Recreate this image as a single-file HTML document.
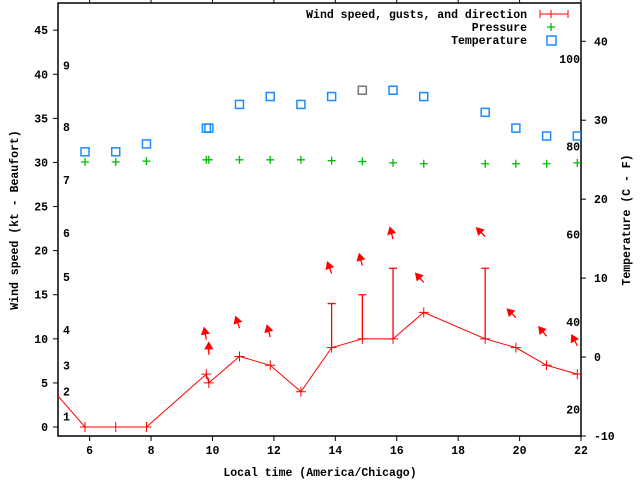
<!DOCTYPE html>
<html><head><meta charset="utf-8"><style>
body{margin:0;background:#fff}
svg text{font-family:"Liberation Mono",monospace;font-weight:bold;font-size:11.5px;fill:#000}
</style></head><body>
<svg id="c" width="640" height="480" viewBox="0 0 640 480">
<g id="axes"></g><g id="marks"></g>
</svg>
<script>
const times=[4.85,5.85,6.85,7.85,9.8,9.88,10.88,11.88,12.88,13.88,14.88,15.88,16.88,18.88,19.88,20.88,21.88];
const speed=[4,0,0,0,6,5,8,7,4,9,10,10,13,10,9,7,6];
const gustTimes=[13.88,14.88,15.88,18.88];
const gusts=[14,15,18,18];
const tempTimes=[5.85,6.85,7.85,9.8,9.88,10.88,11.88,12.88,13.88,14.88,15.88,16.88,18.88,19.88,20.88,21.88];
const tempC=[26,26,27,29,29,32,33,32,33,33.8,33.8,33,31,29,28,28];
const pressure=[30.05,30.05,30.15,30.3,30.3,30.3,30.3,30.3,30.2,30.1,29.95,29.85,29.85,29.85,29.85,29.95];
const dirTimes=[9.8,9.88,10.88,11.88,13.88,14.88,15.88,16.88,18.88,19.88,20.88,21.88];
const dirBase=[9.9,8.2,11.2,10.2,17.4,18.3,21.3,16.4,21.6,12.4,10.3,9.2];
const dirDeg=[350,0,342,345,340,345,345,318,315,315,320,333];
const xTicks=[6,8,10,12,14,16,18,20,22];
const yTicks=[0,5,10,15,20,25,30,35,40,45];
const y2Ticks=[-10,0,10,20,30,40];
const fLabels=[20,40,60,80,100];
const bftLabels=[1,2,3,4,5,6,7,8,9];
const bftKt=[1.2,4.0,7.0,11.0,17.0,22.0,28.0,34.0,41.0];

const L=58,R=581,T=3,B=436;
const X=t=>L+(t-4.97)*(R-L)/17.03;
const Y=v=>B-(v+1.02)*(B-T)/49.1;
const Y2=c=>B-(c+10)*(B-T)/54.85;
const NS='http://www.w3.org/2000/svg';
const ax=document.getElementById('axes'),mk=document.getElementById('marks');
function el(p,tag,a,txt){const e=document.createElementNS(NS,tag);for(const k in a)e.setAttribute(k,a[k]);if(txt!==undefined)e.textContent=txt;p.appendChild(e);return e;}

let e=el(ax,'rect',{x:L,y:T,width:R-L,height:B-T,fill:'none',stroke:'#000','stroke-width':1.5});


xTicks.forEach(t=>{
  const x=X(t);
  el(ax,'line',{x1:x,y1:B,x2:x,y2:B+5,stroke:'#000'});
  el(ax,'line',{x1:x,y1:T,x2:x,y2:T-5,stroke:'#000'});
  const tx=el(ax,'text',{x:x,y:B+18,'text-anchor':'middle'},String(t));
  
  
});
yTicks.forEach(v=>{
  const y=Y(v);
  el(ax,'line',{x1:L-5,y1:y,x2:L,y2:y,stroke:'#000'});
  const tx=el(ax,'text',{x:L-10,y:y+4,'text-anchor':'end'},String(v));
  
  
});
y2Ticks.forEach(c=>{
  const y=Y2(c);
  el(ax,'line',{x1:R,y1:y,x2:R+5,y2:y,stroke:'#000'});
  const tx=el(ax,'text',{x:R+13,y:y+4},String(c));
  
  
});
fLabels.forEach(f=>{
  const tx=el(ax,'text',{x:580,y:Y2((f-32)*5/9)+4,'text-anchor':'end'},String(f));
  
  
});
bftLabels.forEach((b,i)=>{
  const tx=el(ax,'text',{x:63,y:Y(bftKt[i])+4},String(b));
  
  
});
e=el(ax,'text',{x:320,y:476,'text-anchor':'middle'},'Local time (America/Chicago)');


e=el(ax,'text',{x:0,y:0,'text-anchor':'middle',transform:'translate(18,220) rotate(-90)'},'Wind speed (kt - Beaufort)');


e=el(ax,'text',{x:0,y:0,'text-anchor':'middle',transform:'translate(630,220) rotate(-90)'},'Temperature (C - F)');



// legend
const lg=el(ax,'g',{});


el(lg,'text',{x:527,y:18,'text-anchor':'end'},'Wind speed, gusts, and direction');
el(lg,'text',{x:527,y:44,'text-anchor':'end'},'Pressure');
el(lg,'text',{x:527,y:44+13,'text-anchor':'end'},'').remove();
el(lg,'text',{x:527,y:31,'text-anchor':'end'},'').remove();
lg.lastChild.textContent='Pressure';lg.lastChild.setAttribute('y',31);
el(lg,'text',{x:527,y:44,'text-anchor':'end'},'Temperature');
el(lg,'line',{x1:540,y1:14,x2:568,y2:14,stroke:'#f00'});
el(lg,'line',{x1:540,y1:10,x2:540,y2:18,stroke:'#f00'});
el(lg,'line',{x1:568,y1:10,x2:568,y2:18,stroke:'#f00'});
el(lg,'line',{x1:551,y1:10,x2:551,y2:18,stroke:'#f00'});
el(lg,'path',{d:'M547 27h8M551 23v8',stroke:'#0b0','stroke-width':1.3});
el(lg,'rect',{x:547,y:36,width:9,height:9,fill:'none',stroke:'#1a8cff','stroke-width':1.5});

// clip
const defs=el(mk,'defs',{});const cp=el(defs,'clipPath',{id:'cl'});el(cp,'rect',{x:L,y:T,width:R-L,height:B-T});
const g=el(mk,'g',{'clip-path':'url(#cl)'});

// speed line
const ln=el(g,'polyline',{points:times.map((t,i)=>X(t)+','+Y(speed[i])).join(' '),fill:'none',stroke:'#f00','stroke-width':1});


times.forEach((t,i)=>{
  const p=el(g,'path',{d:`M${X(t)-5} ${Y(speed[i])}h10M${X(t)} ${Y(speed[i])-5}v10`,stroke:'#f00'});
  
  
});
gustTimes.forEach((t,i)=>{
  const j=times.indexOf(t);const x=X(t);
  const p=el(g,'path',{d:`M${x} ${Y(speed[j])}V${Y(gusts[i])}M${x-4} ${Y(gusts[i])}h8`,stroke:'#f00','stroke-width':1.3});
  
  
});
dirTimes.forEach((t,i)=>{
  const x=X(t),y=Y(dirBase[i]),a=dirDeg[i]*Math.PI/180,len=12;
  const hx=x+Math.sin(a)*len,hy=y-Math.cos(a)*len;
  const ux=Math.sin(a),uy=-Math.cos(a);
  const b1x=hx-ux*6-uy*3.5,b1y=hy-uy*6+ux*3.5,b2x=hx-ux*6+uy*3.5,b2y=hy-uy*6-ux*3.5;
  const p=el(g,'path',{d:`M${x} ${y}L${hx} ${hy}M${hx} ${hy}L${b1x} ${b1y}L${b2x} ${b2y}Z`,stroke:'#f00',fill:'#f00','stroke-width':1.3});
  
  
});
tempTimes.forEach((t,i)=>{
  const r=el(g,'rect',{x:X(t)-4,y:Y2(tempC[i])-4,width:8,height:8,fill:'none',stroke:i==9?'#777':'#1a8cff','stroke-width':1.5});
  
  
  const p=el(g,'path',{d:`M${X(t)-4} ${Y(pressure[i])}h8M${X(t)} ${Y(pressure[i])-4}v8`,stroke:'#0b0','stroke-width':1.3});
  
  
});
</script>
</body></html>
